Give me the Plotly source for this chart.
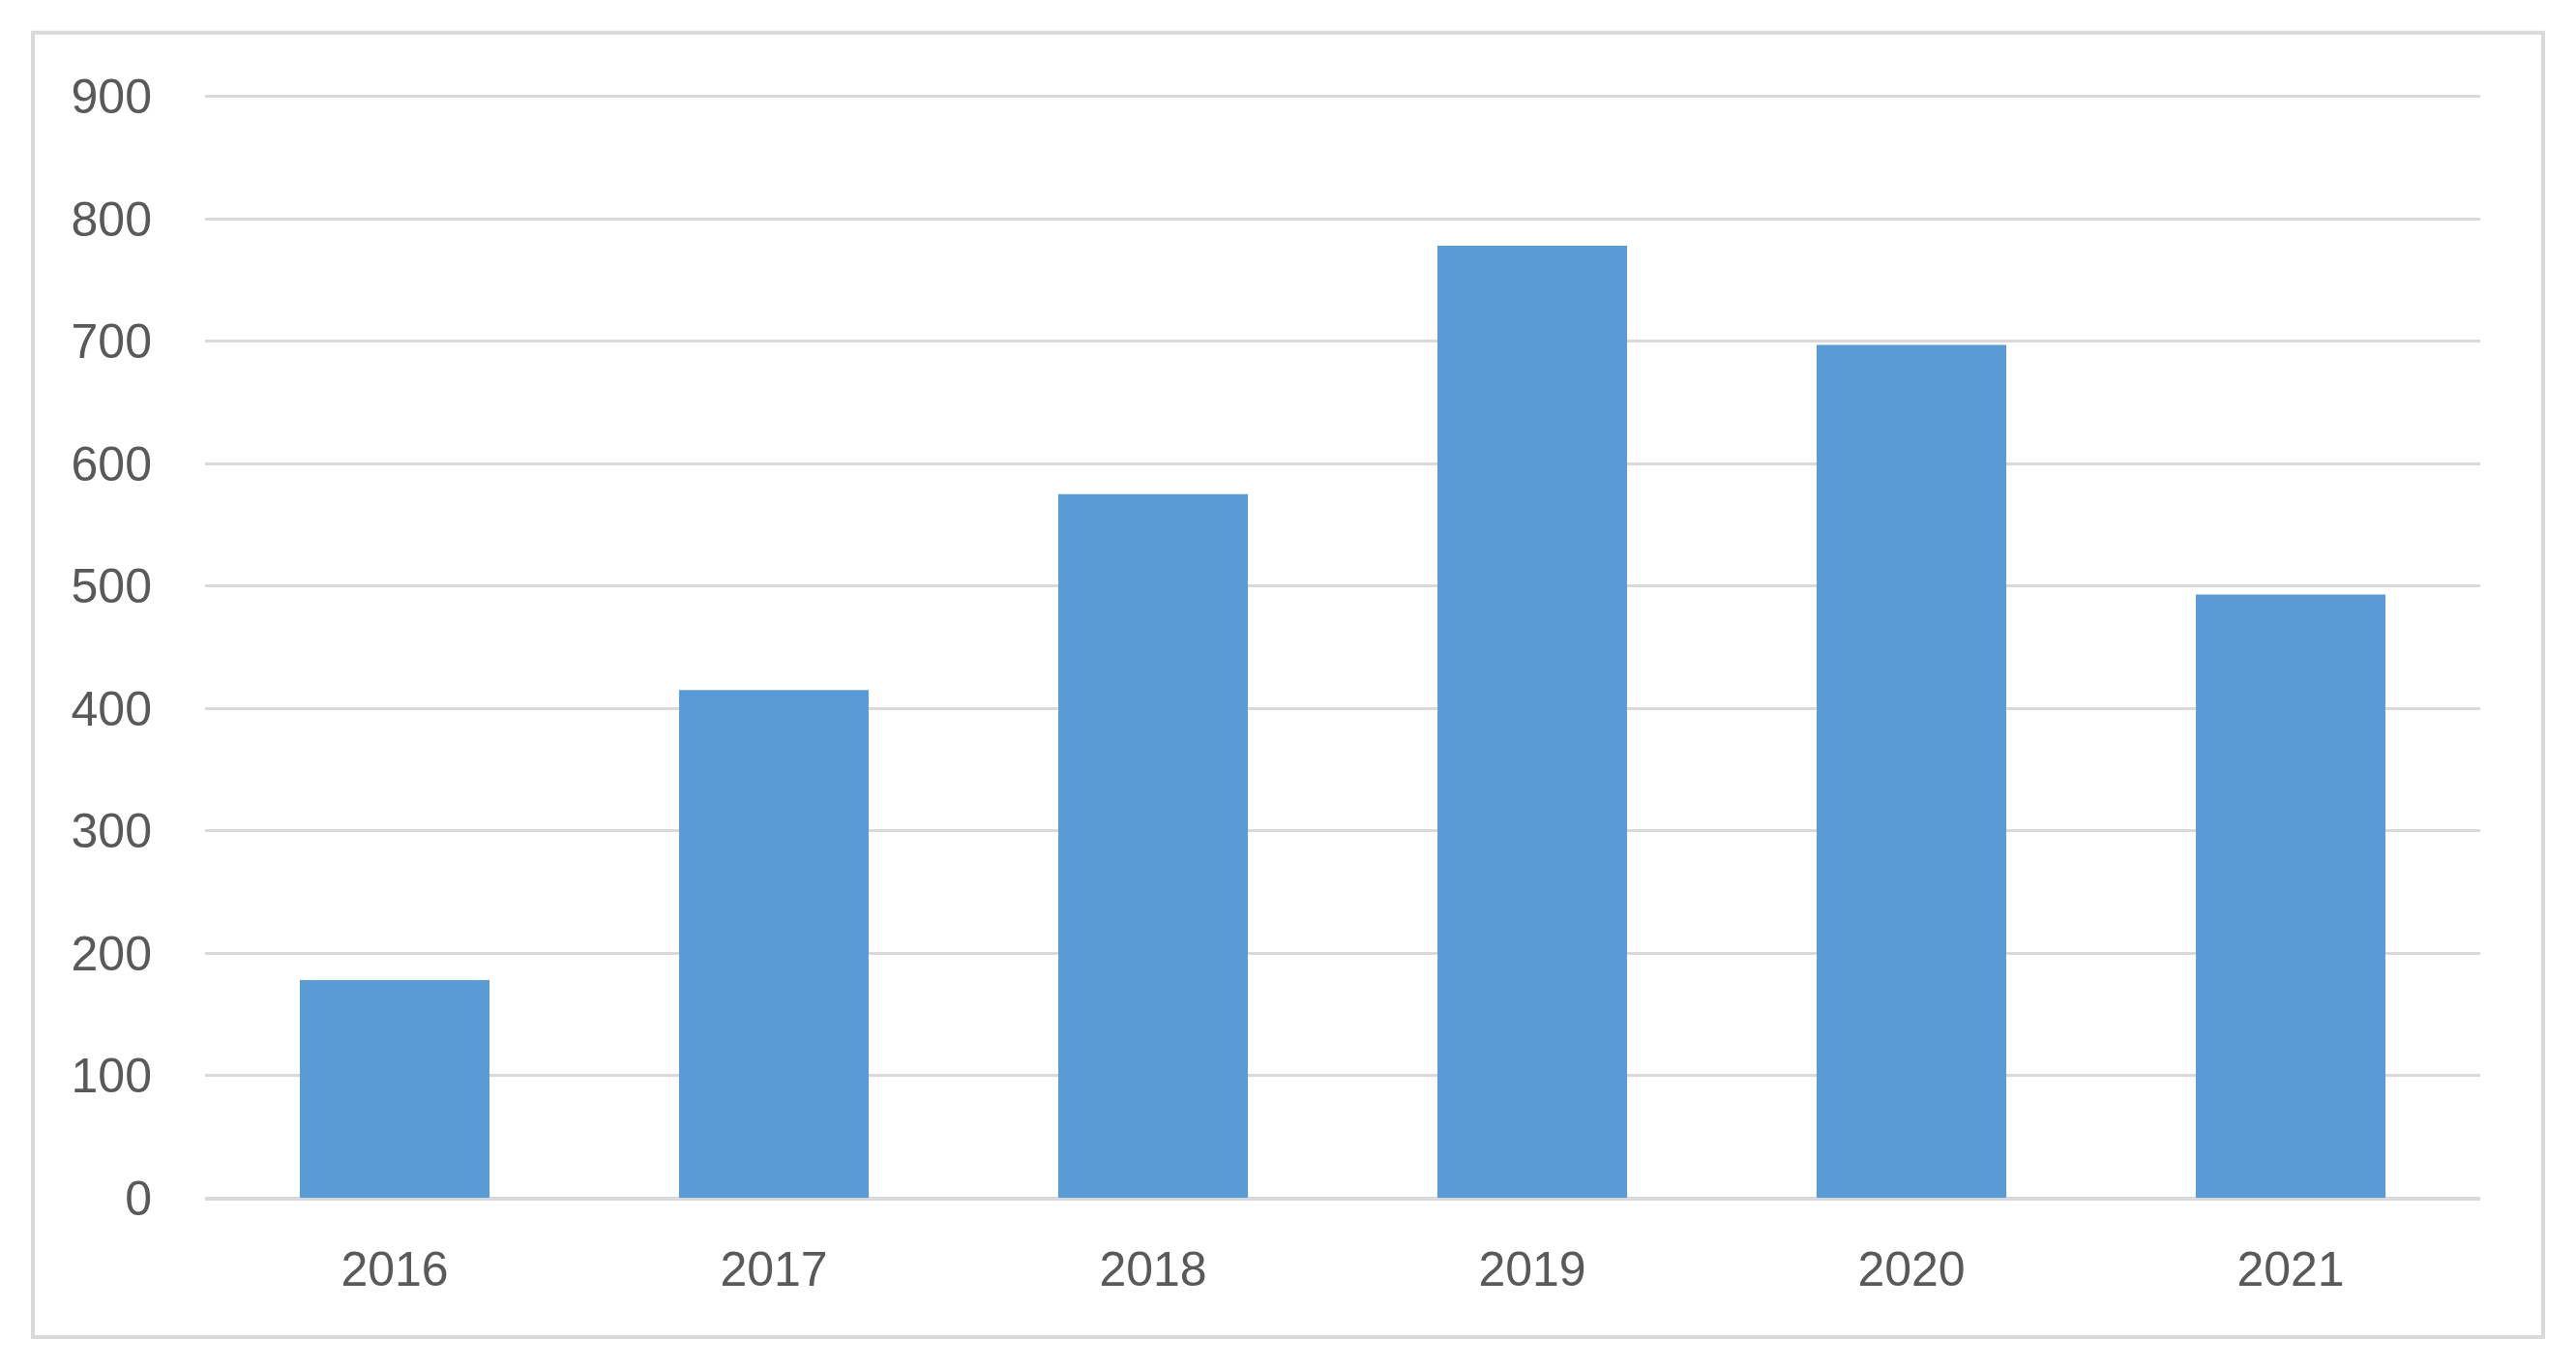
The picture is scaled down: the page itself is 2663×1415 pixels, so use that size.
import plotly.graph_objects as go

years = ["2016", "2017", "2018", "2019", "2020", "2021"]
values = [178, 415, 575, 778, 697, 493]
y_ticks = [0, 100, 200, 300, 400, 500, 600, 700, 800, 900]

OFF = 8  # default page body margin
W, H = 2663 - OFF, 1415 - OFF
L, R, B = 212 - OFF, 2564 - OFF, 1238 - OFF
YMAX = 903
T = B - (B - (100 - OFF)) * YMAX / 900
pw, ph = R - L, B - T

fig = go.Figure(go.Bar(x=years, y=values, marker=dict(color="#5b9bd5", line=dict(width=0))))

fig.update_layout(
    width=W, height=H,
    margin=dict(l=L, r=W - R, t=T, b=H - B, pad=0),
    paper_bgcolor="white", plot_bgcolor="white",
    bargap=0.5, showlegend=False,
    font=dict(family="Liberation Sans", size=50, color="#595959"),
    xaxis=dict(showgrid=False, showline=True, linecolor="#d9d9d9", linewidth=3,
               ticks="", ticklabelstandoff=28),
    yaxis=dict(range=[0, YMAX], tickvals=y_ticks, showgrid=True, gridcolor="#d9d9d9",
               gridwidth=3, zeroline=True, zerolinecolor="#d9d9d9", zerolinewidth=3,
               showline=False, ticks="", ticklabelstandoff=54),
    shapes=[dict(type="rect", xref="paper", yref="paper",
                 x0=(34 - OFF - L) / pw, x1=(2629 - OFF - L) / pw,
                 y0=(B - (1382 - OFF)) / ph, y1=(B - (34 - OFF)) / ph,
                 line=dict(color="#d9d9d9", width=4), fillcolor="rgba(0,0,0,0)", layer="below")],
)

fig.write_html("out.html")
